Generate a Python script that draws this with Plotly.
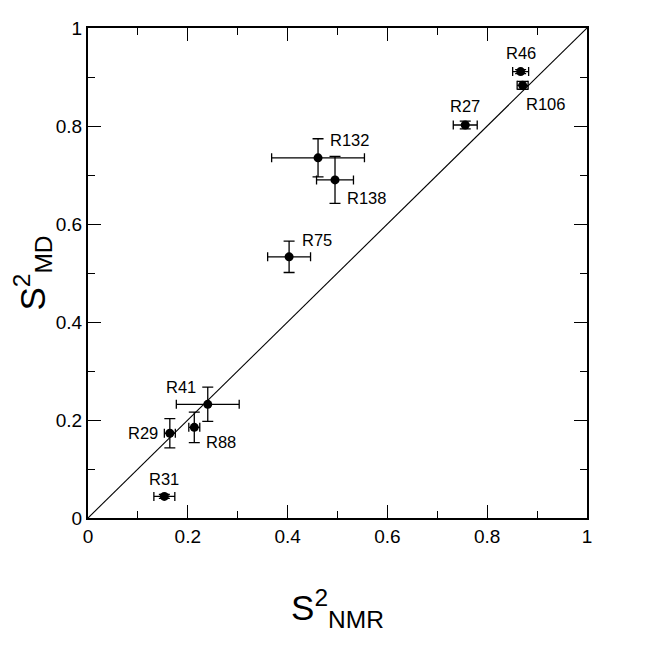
import plotly.graph_objects as go

# Order parameters: NMR vs MD
residues = ["R46", "R106", "R27", "R132", "R138", "R75", "R41", "R88", "R29", "R31"]
s2_nmr = [0.867, 0.871, 0.756, 0.461, 0.495, 0.403, 0.240, 0.213, 0.164, 0.153]
s2_md = [0.911, 0.883, 0.802, 0.735, 0.690, 0.533, 0.232, 0.185, 0.173, 0.044]
err_nmr = [0.016, 0.011, 0.024, 0.093, 0.037, 0.043, 0.063, 0.011, 0.011, 0.021]
err_md = [0.004, 0.008, 0.008, 0.039, 0.048, 0.032, 0.035, 0.031, 0.030, 0.004]

# label offsets (px) from each point
label_dx = [0, 23, 0, 31, 31, 28, -27, 27, -27, 0]
label_dy = [19, -19, 19, 18, -18, 17, 17, -15, 0, 17]

FONT = "Liberation Sans, Arial, Helvetica, sans-serif"

fig = go.Figure()

# y = x reference line
fig.add_trace(go.Scatter(
    x=[0, 1], y=[0, 1], mode="lines",
    line=dict(color="black", width=1.1),
    hoverinfo="skip", showlegend=False,
))

fig.add_trace(go.Scatter(
    x=s2_nmr, y=s2_md, mode="markers",
    marker=dict(color="black", size=9),
    error_x=dict(type="data", array=err_nmr, color="black", thickness=1.3, width=4.5),
    error_y=dict(type="data", array=err_md, color="black", thickness=1.3, width=5.5),
    text=residues, showlegend=False,
))

for name, x, y, dx, dy in zip(residues, s2_nmr, s2_md, label_dx, label_dy):
    fig.add_annotation(
        x=x, y=y, text=name, showarrow=False,
        xshift=dx, yshift=dy,
        font=dict(size=16.5, color="black", family=FONT),
    )

axis_style = dict(
    range=[0, 1],
    dtick=0.2,
    tickformat="~g",
    ticks="inside",
    ticklen=13,
    tickwidth=1.4,
    tickcolor="black",
    minor=dict(ticks="inside", dtick=0.1, ticklen=7, tickwidth=1.4, tickcolor="black"),
    showline=True,
    linewidth=2.3,
    linecolor="black",
    mirror="ticks",
    showgrid=False,
    zeroline=False,
    tickfont=dict(size=19, color="black", family=FONT),
)

fig.update_xaxes(
    **axis_style,
    title=dict(
        text="S<sup>2</sup><sub>NMR</sub>",
        font=dict(size=35, color="black", family=FONT),
        standoff=50,
    ),
)
fig.update_yaxes(
    **axis_style,
    title=dict(
        text="S<sup>2</sup><sub>MD</sub>",
        font=dict(size=35, color="black", family=FONT),
        standoff=8,
    ),
)

fig.update_layout(
    width=654,
    height=648,
    margin=dict(l=80, r=75, t=10, b=138),
    plot_bgcolor="white",
    paper_bgcolor="white",
)

fig.write_html("out.html")
